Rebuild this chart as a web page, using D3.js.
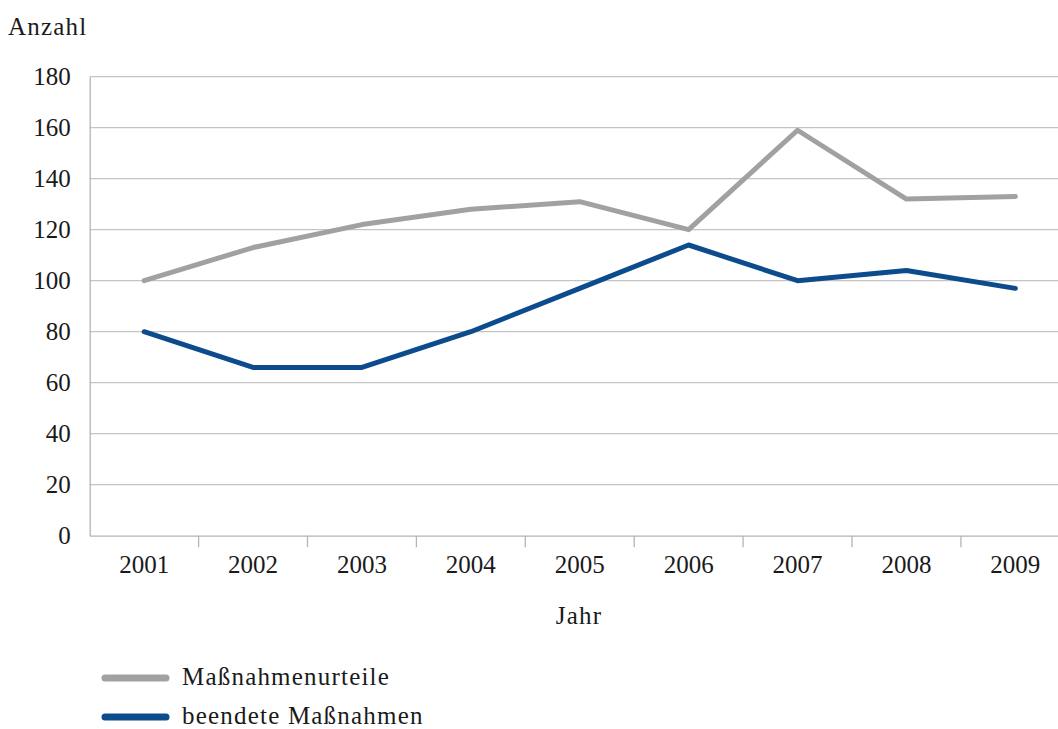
<!DOCTYPE html>
<html>
<head>
<meta charset="utf-8">
<script src="https://cdn.jsdelivr.net/npm/d3@7"></script>
<style>
  html, body { margin: 0; padding: 0; background: #fff; }
  svg { display: block; }
  text { font-family: "Liberation Serif", "DejaVu Serif", serif; fill: #1a1a1a; }
</style>
</head>
<body>
<svg id="chart" width="1058" height="729"></svg>
<script>
// Jahre und Werte
const years = ["2001", "2002", "2003", "2004", "2005", "2006", "2007", "2008", "2009"];
const massnahmenurteile = [100, 113, 122, 128, 131, 120, 159, 132, 133];
const beendeteMassnahmen = [80, 66, 66, 80, 97, 114, 100, 104, 97];
const yTicks = [0, 20, 40, 60, 80, 100, 120, 140, 160, 180];

const seriesNames = ["Maßnahmenurteile", "beendete Maßnahmen"];
const seriesColors = ["#a0a2a1", "#0d4c8c"];
const seriesValues = [massnahmenurteile, beendeteMassnahmen];

const svg = d3.select("#chart");
const plot = { left: 89.7, right: 1069.8, top: 76.7, bottom: 535.7 };

const x = d3.scaleBand().domain(years).range([plot.left, plot.right]).padding(0);
const y = d3.scaleLinear().domain([0, 180]).range([plot.bottom, plot.top]);

// horizontale Gitterlinien
svg.append("g")
  .selectAll("line")
  .data(yTicks.filter(d => d > 0))
  .join("line")
  .attr("x1", plot.left).attr("x2", plot.right)
  .attr("y1", d => y(d)).attr("y2", d => y(d))
  .attr("stroke", "#c4c4c4").attr("stroke-width", 1.3);

// y-Achse
const yAxis = svg.append("g")
  .attr("transform", `translate(${plot.left},0)`)
  .call(d3.axisLeft(y).tickValues(yTicks).tickSize(0).tickPadding(19));
yAxis.select(".domain").attr("stroke", "#b4b4b4").attr("stroke-width", 1.3);
yAxis.selectAll("text")
  .attr("font-size", 25)
  .attr("font-family", "Liberation Serif, serif")
  .attr("fill", "#1a1a1a");

// x-Achse mit Trennstrichen an den Kategoriegrenzen
const xAxis = svg.append("g")
  .attr("transform", `translate(0,${plot.bottom})`)
  .call(d3.axisBottom(x).tickSize(0).tickPadding(20));
xAxis.select(".domain").attr("stroke", "#b4b4b4").attr("stroke-width", 1.3);
xAxis.selectAll("text")
  .attr("font-size", 25)
  .attr("font-family", "Liberation Serif, serif")
  .attr("fill", "#1a1a1a");
xAxis.selectAll(".sep")
  .data(years.slice(1).concat(["end"]))
  .join("line")
  .attr("class", "sep")
  .attr("x1", (d, i) => plot.left + (i + 1) * x.bandwidth())
  .attr("x2", (d, i) => plot.left + (i + 1) * x.bandwidth())
  .attr("y1", 0).attr("y2", 11.5)
  .attr("stroke", "#b4b4b4").attr("stroke-width", 1.3);

// Linien
const line = d3.line()
  .x((d, i) => x(years[i]) + x.bandwidth() / 2)
  .y(d => y(d));

svg.append("g")
  .selectAll("path")
  .data(seriesValues)
  .join("path")
  .attr("d", d => line(d))
  .attr("fill", "none")
  .attr("stroke", (d, i) => seriesColors[i])
  .attr("stroke-width", 5)
  .attr("stroke-linejoin", "round")
  .attr("stroke-linecap", "round");

// Achsentitel
svg.append("text")
  .attr("x", 8).attr("y", 35)
  .attr("font-size", 25)
  .attr("letter-spacing", 1.2)
  .text("Anzahl");

svg.append("text")
  .attr("x", 579).attr("y", 624)
  .attr("text-anchor", "middle")
  .attr("font-size", 25)
  .attr("letter-spacing", 1.2)
  .text("Jahr");

// Legende
const legend = svg.append("g")
  .selectAll("g")
  .data(seriesNames)
  .join("g")
  .attr("transform", (d, i) => `translate(0,${678 + i * 39})`);

legend.append("line")
  .attr("x1", 105).attr("x2", 166)
  .attr("y1", 0).attr("y2", 0)
  .attr("stroke", (d, i) => seriesColors[i])
  .attr("stroke-width", 7)
  .attr("stroke-linecap", "round");

legend.append("text")
  .attr("x", 182).attr("y", 7)
  .attr("font-size", 25)
  .attr("letter-spacing", 1.2)
  .text(d => d);
</script>
</body>
</html>
